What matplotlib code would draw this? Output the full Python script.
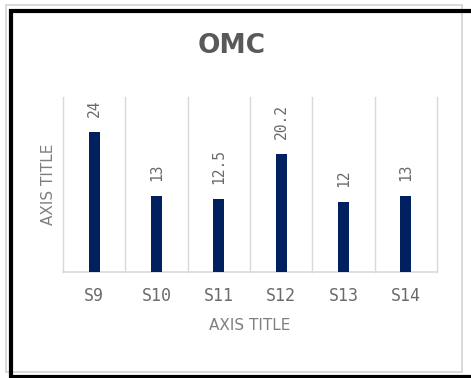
import matplotlib.pyplot as plt
from matplotlib.patches import Rectangle
from matplotlib.lines import Line2D

categories = ["S9", "S10", "S11", "S12", "S13", "S14"]
values = [24, 13, 12.5, 20.2, 12, 13]
value_labels = ["24", "13", "12.5", "20.2", "12", "13"]

W, H = 471, 378
fig = plt.figure(figsize=(W / 100, H / 100), dpi=100)
fig.patch.set_facecolor("white")


def px(x, y):
    return x / W, 1 - y / H


# chart area outline (light gray) and the black frame around it
x0, y0 = px(5.5, 4.5)
x1, y1 = px(461.5, 371.5)
fig.add_artist(Rectangle((x0, y1), x1 - x0, y0 - y1, transform=fig.transFigure,
                         fill=False, edgecolor="#d9d9d9", linewidth=1.4))
blk = dict(transform=fig.transFigure, color="black", linewidth=3.0, solid_capstyle="butt")
fig.add_artist(Line2D([px(11, 0)[0]] * 2, [px(0, 9)[1], 0], **blk))
fig.add_artist(Line2D([px(9, 0)[0], 1], [px(0, 11)[1]] * 2, **blk))
fig.add_artist(Line2D([px(9, 0)[0], 1], [px(0, 376.5)[1]] * 2, **blk))

ax = fig.add_axes([63 / W, 1 - 272 / H, (437 - 63) / W, (272 - 97) / H])
pos = list(range(len(categories)))
bars = ax.bar(pos, values, width=0.18, color="#002060", zorder=3)

ax.set_xlim(-0.5, len(categories) - 0.5)
ax.set_ylim(0, 30)

# vertical gridlines at category boundaries
for b in range(len(categories) + 1):
    ax.axvline(b - 0.5, color="#d9d9d9", linewidth=1.0, zorder=1, clip_on=False)

for s in ["top", "right", "left"]:
    ax.spines[s].set_visible(False)
ax.spines["bottom"].set_color("#d9d9d9")
ax.spines["bottom"].set_linewidth(1.2)
ax.set_yticks([])
ax.set_xticks(pos)
ax.set_xticklabels(categories, fontfamily="DejaVu Sans Mono", fontsize=12, color="#6a6a6a")
ax.tick_params(axis="x", length=0, pad=11)

for p, v, lab in zip(pos, values, value_labels):
    ax.annotate(lab, (p, v), xytext=(0, 15), textcoords="offset pixels",
                rotation=90, ha="center", va="bottom",
                fontfamily="DejaVu Sans Mono", fontsize=10.5, color="#6a6a6a")

ax.set_xlabel("AXIS TITLE", fontsize=11, color="#7f7f7f", labelpad=9)
ax.set_ylabel("AXIS TITLE", fontsize=11, color="#7f7f7f", labelpad=5)

fig.text(232 / W, 1 - 46 / H, "OMC", ha="center", va="center",
         fontsize=19, fontweight="bold", color="#595959")

fig.savefig("out.png", dpi=100)
